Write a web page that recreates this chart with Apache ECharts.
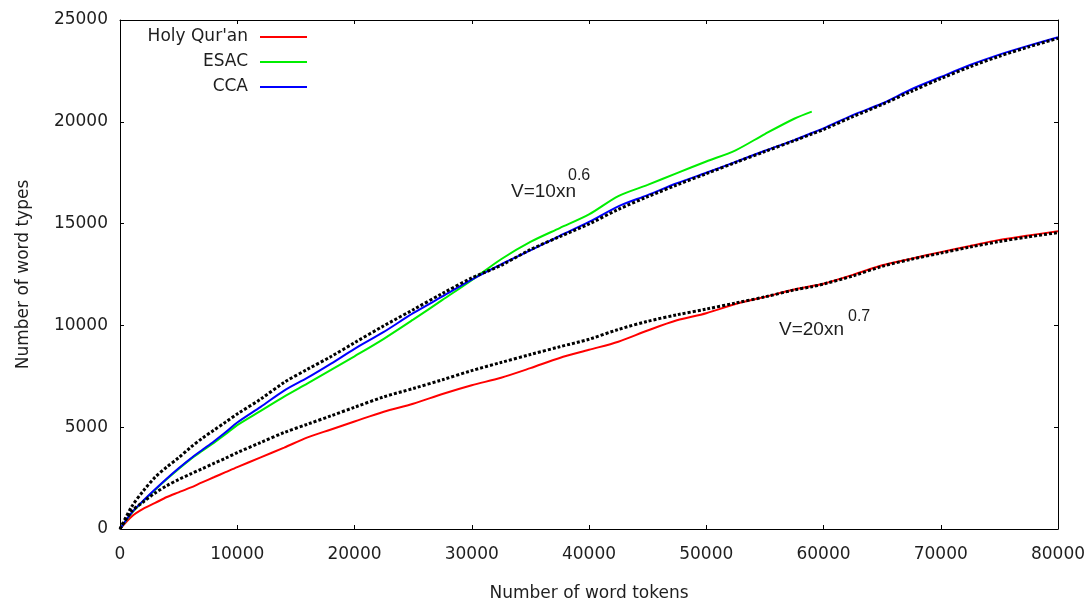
<!DOCTYPE html>
<html>
<head>
<meta charset="utf-8">
<title>Word types vs word tokens</title>
<script src="https://cdn.jsdelivr.net/npm/echarts@6/dist/echarts.min.js"></script>
<style>
    html, body { margin: 0; padding: 0; background: #fff; }
    #chart { width: 1088px; height: 603px; }
</style>
</head>
<body>
<div id="chart"></div>
<script>
// number of word tokens (x)
var tokens = [0, 1000, 2000, 3000, 4000, 5000, 6000, 7000, 8000, 9000, 10000,
    12000, 14000, 16000, 18000, 20000, 22500, 25000, 27500, 30000, 32500,
    35000, 37500, 40000, 42500, 45000, 47500, 50000, 52500, 55000, 57500,
    59000, 60000, 62500, 65000, 67500, 70000, 72500, 75000, 77500, 80000];

// number of word types (y)
var quran = [0, 620, 1000, 1280, 1570, 1800, 2030, 2290, 2540, 2790, 3040,
    3520, 4000, 4500, 4890, 5280, 5760, 6150, 6630, 7060, 7430,
    7900, 8400, 8800, 9200, 9750, 10250, 10600, 11050, 11400, 11760,
    11930, 12050, 12480, 12950, 13280, 13600, 13900, 14200, 14420, 14620];
var esac = [0, 780, 1380, 1930, 2450, 2950, 3420, 3830, 4230, 4650, 5100,
    5800, 6500, 7150, 7810, 8480, 9340, 10280, 11250, 12220, 13250,
    14100, 14780, 15450, 16350, 16900, 17480, 18050, 18600, 19400, 20150,
    20500];
var cca = [0, 800, 1400, 1950, 2480, 2980, 3450, 3880, 4300, 4750, 5230,
    6000, 6800, 7430, 8120, 8850, 9680, 10600, 11420, 12250, 13000,
    13680, 14400, 15080, 15850, 16400, 16980, 17500, 18030, 18580, 19100,
    19450, 19680, 20330, 20900, 21600, 22200, 22790, 23300, 23740, 24150];
// dotted fit curves
var fitUpper = [0, 1100, 1880, 2550, 3050, 3500, 4000, 4450, 4850, 5250, 5650,
    6380, 7200, 7850, 8470, 9150, 9980, 10770, 11570, 12330, 12950,
    13720, 14360, 14980, 15700, 16320, 16900, 17450, 18000, 18540, 19070,
    19400, 19620, 20250, 20850, 21500, 22120, 22700, 23220, 23680, 24100];
var fitLower = [0, 870, 1340, 1770, 2130, 2430, 2700, 2960, 3220, 3480, 3750,
    4250, 4740, 5150, 5560, 5980, 6490, 6900, 7330, 7780, 8180,
    8570, 8950, 9320, 9800, 10200, 10520, 10800, 11100, 11400, 11740,
    11900, 12030, 12430, 12900, 13250, 13550, 13850, 14120, 14350, 14560];

var seriesNames = ["Holy Qur'an", 'ESAC', 'CCA'];
var seriesColors = ['#ff0000', '#00ee00', '#0000ff'];

var xTicks = { min: 0, max: 80000, interval: 10000 };
var yTicks = { min: 0, max: 25000, interval: 5000 };

function pairs(xs, ys) {
    var out = [];
    for (var i = 0; i < ys.length; i++) {
        out.push([xs[i], ys[i]]);
    }
    return out;
}

var font = '"DejaVu Sans", Verdana, sans-serif';
var textColor = '#1e1e1e';

function axis(pos, ticks, withLabels, margin) {
    return {
        type: 'value',
        position: pos,
        min: ticks.min,
        max: ticks.max,
        interval: ticks.interval,
        splitLine: { show: false },
        axisLine: { show: true, onZero: false, lineStyle: { color: '#000', width: 1 } },
        axisTick: { show: true, inside: true, length: 4, lineStyle: { color: '#000' } },
        axisLabel: {
            show: withLabels,
            margin: margin || 12,
            color: textColor,
            fontFamily: font,
            fontSize: 17,
            formatter: function (v) { return String(v); }
        }
    };
}

var xBottom = axis('bottom', xTicks, true, 17);
xBottom.name = 'Number of word tokens';
xBottom.nameLocation = 'middle';
xBottom.nameGap = 56;
xBottom.nameTextStyle = { color: textColor, fontFamily: font, fontSize: 17 };

var yLeft = axis('left', yTicks, true, 12);
yLeft.name = 'Number of word types';
yLeft.nameLocation = 'middle';
yLeft.nameGap = 88;
yLeft.nameTextStyle = { color: textColor, fontFamily: font, fontSize: 17 };

// key in the top left corner, gnuplot style: text, then a line sample
var keyGraphics = [];
seriesNames.forEach(function (name, i) {
    var y = 37 + i * 25;
    keyGraphics.push({
        type: 'text', x: 248, y: y,
        style: { text: name, font: '17px ' + font, fill: textColor, align: 'right', verticalAlign: 'middle' }
    });
    keyGraphics.push({
        type: 'line',
        shape: { x1: 260, y1: y, x2: 307, y2: y },
        style: { stroke: seriesColors[i], lineWidth: 2 }
    });
});

var noteFont = '"Liberation Sans", Arial, sans-serif';
var notes = [
    { type: 'text', x: 511, y: 192, style: { text: 'V=10xn', font: '19px ' + noteFont, fill: textColor, verticalAlign: 'middle' } },
    { type: 'text', x: 568, y: 176, style: { text: '0.6', font: '16px ' + noteFont, fill: textColor, verticalAlign: 'middle' } },
    { type: 'text', x: 779, y: 330, style: { text: 'V=20xn', font: '19px ' + noteFont, fill: textColor, verticalAlign: 'middle' } },
    { type: 'text', x: 848, y: 317, style: { text: '0.7', font: '16px ' + noteFont, fill: textColor, verticalAlign: 'middle' } }
];

function line(i, values) {
    return {
        name: seriesNames[i],
        type: 'line',
        data: pairs(tokens, values),
        symbol: 'none',
        smooth: 0.3,
        lineStyle: { color: seriesColors[i], width: 2 },
        itemStyle: { color: seriesColors[i] },
        silent: true
    };
}

function fit(values) {
    return {
        type: 'line',
        data: pairs(tokens, values),
        symbol: 'none',
        smooth: 0.3,
        lineStyle: { color: '#000', width: 3, type: [3, 2] },
        silent: true,
        z: 5
    };
}

var myChart = echarts.init(document.getElementById('chart'));
option = {
    backgroundColor: '#fff',
    animation: false,
    grid: { left: 120, right: 30, top: 20, bottom: 74, containLabel: false, outerBoundsMode: 'none' },
    xAxis: [xBottom, axis('top', xTicks, false)],
    yAxis: [yLeft, axis('right', yTicks, false)],
    graphic: keyGraphics.concat(notes),
    series: [
        line(0, quran),
        line(1, esac),
        line(2, cca),
        fit(fitUpper),
        fit(fitLower)
    ]
};

myChart.setOption(option);
</script>
</body>
</html>
